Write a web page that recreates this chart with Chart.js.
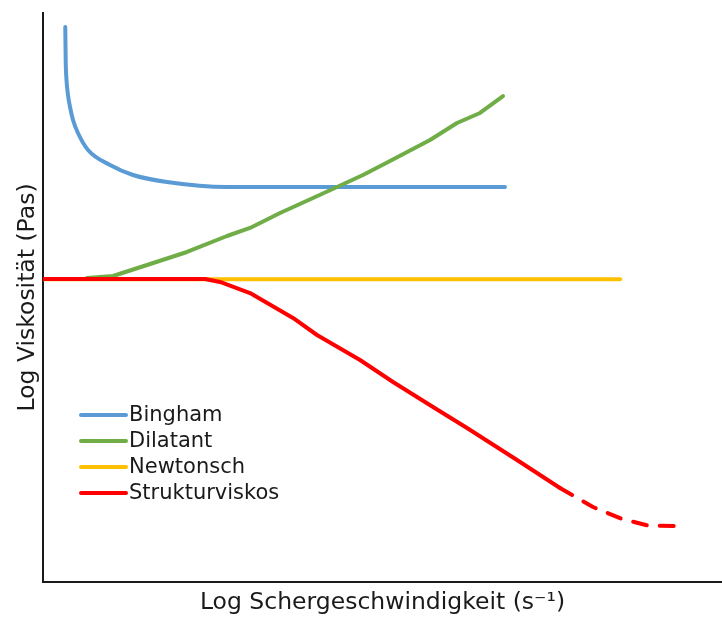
<!DOCTYPE html>
<html>
<head>
<meta charset="utf-8">
<script src="https://cdn.jsdelivr.net/npm/chart.js@4/dist/chart.umd.min.js"></script>
<style>
  html, body { margin: 0; padding: 0; background: #ffffff; }
  #wrap { width: 722px; height: 622px; }
</style>
</head>
<body>
<div id="wrap"><canvas id="c" width="722" height="622"></canvas></div>
<script>
// Flow curves, log viscosity vs. log shear rate (normalised 0–100 units)
const seriesNames = ['Bingham', 'Dilatant', 'Newtonsch', 'Strukturviskos'];
const seriesColors = ['#5B9BD5', '#70AD47', '#FFC000', '#FF0000'];

const binghamX = [3.28, 3.34, 3.46, 3.68, 3.98, 4.42, 5.15, 6.63, 9.87, 13.26, 18.26, 27.10, 68.04];
const binghamY = [97.54, 91.74, 88.23, 85.59, 83.48, 81.20, 78.91, 75.92, 73.29, 71.53, 70.30, 69.42, 69.42];

const dilatantX = [6.48, 10.31, 15.32, 21.21, 27.10, 30.49, 34.91, 39.77, 43.30, 47.13, 51.11, 57.00, 60.97, 64.36, 67.75];
const dilatantY = [53.43, 53.78, 55.71, 58.00, 60.81, 62.22, 64.85, 67.49, 69.42, 71.53, 73.99, 77.68, 80.67, 82.43, 85.41];

const newtonX = [0, 85.0];
const newtonY = [53.20, 53.20];

const strukturX = [0, 23.86, 26.07, 30.49, 36.82, 40.35, 46.69, 51.55, 57.44, 62.45, 69.81, 76.14, 81.00, 85.27, 89.10, 93.08];
const strukturY = [53.25, 53.25, 52.73, 50.79, 46.40, 43.41, 39.02, 35.15, 30.76, 27.07, 21.44, 16.52, 13.18, 11.07, 9.93, 9.84];
// points from this index on are an extrapolation and drawn dashed
const strukturDashFrom = 11;

const xTitle = 'Log Schergeschwindigkeit (s\u207B\u00B9)';
const yTitle = 'Log Viskosit\u00E4t (Pas)';

const FONT = '"DejaVu Sans", sans-serif';

function pts(xs, ys) { return xs.map((x, i) => ({ x: x, y: ys[i] })); }

const series = [pts(binghamX, binghamY), pts(dilatantX, dilatantY), pts(newtonX, newtonY), pts(strukturX, strukturY)];
const drawOrder = [2, 1, 3, 0]; // lower value is painted on top

const datasets = series.map((data, i) => ({
  label: seriesNames[i],
  data: data,
  borderColor: seriesColors[i],
  backgroundColor: seriesColors[i],
  borderWidth: 4,
  pointRadius: 0,
  pointHoverRadius: 0,
  tension: 0,
  fill: false,
  borderCapStyle: 'round',
  borderJoinStyle: 'round',
  order: drawOrder[i]
}));
datasets[0].cubicInterpolationMode = 'monotone';
datasets[3].segment = {
  borderDash: ctx => ctx.p0DataIndex >= strukturDashFrom ? [14, 13] : undefined
};

// Legend drawn inside the plot area, lower left
const insideLegend = {
  id: 'insideLegend',
  afterDraw(chart, args, opts) {
    const ctx = chart.ctx;
    ctx.save();
    ctx.font = opts.fontSize + 'px ' + FONT;
    ctx.textBaseline = 'middle';
    ctx.textAlign = 'left';
    chart.data.datasets.forEach((ds, i) => {
      const y = opts.y + i * opts.rowGap;
      ctx.strokeStyle = ds.borderColor;
      ctx.lineWidth = 4;
      ctx.lineCap = 'round';
      ctx.beginPath();
      ctx.moveTo(opts.x, y);
      ctx.lineTo(opts.x + opts.sample, y);
      ctx.stroke();
      ctx.fillStyle = '#1a1a1a';
      ctx.fillText(ds.label, opts.x + opts.sample + 3, y + 1);
    });
    ctx.restore();
  }
};

new Chart(document.getElementById('c'), {
  type: 'line',
  data: { datasets: datasets },
  plugins: [insideLegend],
  options: {
    responsive: false,
    animation: false,
    layout: { padding: { top: 13, right: 0, bottom: 0, left: 0 } },
    plugins: {
      legend: { display: false },
      tooltip: { enabled: false },
      insideLegend: { x: 81, y: 415, rowGap: 26, sample: 45, fontSize: 21 }
    },
    scales: {
      x: {
        type: 'linear', min: 0, max: 100,
        grid: { display: false },
        border: { display: true, color: '#1a1a1a', width: 2 },
        ticks: { display: false },
        title: { display: true, text: xTitle, color: '#1a1a1a', font: { family: FONT, size: 23.5 }, padding: { top: 0, bottom: 5 } },
        afterFit(s) { s.height = 40; }
      },
      y: {
        type: 'linear', min: 0, max: 100,
        grid: { display: false },
        border: { display: true, color: '#1a1a1a', width: 2 },
        ticks: { display: false },
        title: { display: true, text: yTitle, color: '#1a1a1a', font: { family: FONT, size: 23.5 }, padding: { top: 14, bottom: 0 } },
        afterFit(s) { s.width = 43; }
      }
    }
  }
});
</script>
</body>
</html>
